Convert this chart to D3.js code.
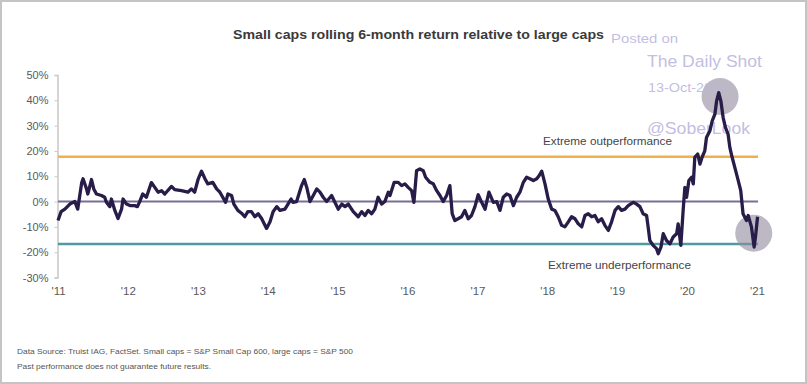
<!DOCTYPE html>
<html>
<head>
<meta charset="utf-8">
<script src="https://cdn.jsdelivr.net/npm/d3@7"></script>
<style>
  html, body { margin: 0; padding: 0; background: #fff; }
  svg { display: block; font-family: "Liberation Sans", Arial, sans-serif; }
</style>
</head>
<body>
<div id="chart"></div>
<script>
// === DATA ===
// roughly every 2-3 weeks
const dates = [
  '2011-01-01','2011-01-17','2011-02-06','2011-03-04','2011-03-30','2011-04-14','2011-05-05','2011-05-12',
  '2011-05-30','2011-06-06','2011-06-25','2011-07-07','2011-07-21','2011-08-16','2011-09-02','2011-09-11',
  '2011-09-29','2011-10-07','2011-10-25','2011-11-11','2011-11-29','2011-12-07','2011-12-25',
  '2012-01-12','2012-02-06','2012-02-20','2012-03-03','2012-03-19','2012-04-07','2012-05-03','2012-05-21',
  '2012-06-07','2012-06-25','2012-07-12','2012-08-16','2012-09-02','2012-10-07','2012-11-10','2012-11-28','2012-12-15',
  '2013-01-03','2013-01-20','2013-02-07','2013-02-22','2013-03-20','2013-04-09','2013-04-26','2013-05-11',
  '2013-05-26','2013-06-07','2013-06-26','2013-07-08','2013-07-29','2013-08-17','2013-09-03','2013-09-19',
  '2013-10-08','2013-10-26','2013-11-12','2013-11-30','2013-12-26',
  '2014-01-13','2014-01-29','2014-02-17','2014-03-06','2014-04-01','2014-04-17','2014-05-03','2014-05-13',
  '2014-06-01','2014-06-27','2014-07-11','2014-07-24','2014-08-10','2014-08-27','2014-09-14','2014-10-01',
  '2014-10-18','2014-11-05','2014-12-01','2014-12-18',
  '2015-01-05','2015-01-23','2015-02-09','2015-02-26','2015-03-24','2015-04-19','2015-05-07','2015-05-24',
  '2015-06-10','2015-06-28','2015-07-15','2015-08-01','2015-08-19','2015-09-05','2015-09-23','2015-10-02',
  '2015-10-24','2015-11-14','2015-12-02','2015-12-19',
  '2016-01-05','2016-01-23','2016-02-04','2016-02-18','2016-03-06','2016-03-24','2016-04-05','2016-04-28',
  '2016-05-15','2016-06-02','2016-06-19','2016-07-06','2016-07-24','2016-08-10','2016-08-22','2016-09-05',
  '2016-09-22','2016-10-10','2016-10-27','2016-11-14','2016-12-01','2016-12-19',
  '2017-01-05','2017-01-23','2017-02-10','2017-03-02','2017-03-25','2017-04-12','2017-04-29','2017-05-16',
  '2017-06-03','2017-06-20','2017-07-08','2017-07-25','2017-08-11','2017-08-29','2017-09-15','2017-10-02',
  '2017-10-20','2017-11-07','2017-11-19','2017-12-03','2017-12-20',
  '2018-01-06','2018-01-24','2018-02-10','2018-02-27','2018-03-17','2018-04-03','2018-04-21','2018-05-08',
  '2018-05-26','2018-06-12','2018-06-30','2018-07-17','2018-08-03','2018-08-21','2018-09-07','2018-09-24',
  '2018-10-12','2018-10-29','2018-11-16','2018-12-03','2018-12-21',
  '2019-01-07','2019-01-24','2019-02-11','2019-02-28','2019-03-26','2019-04-13','2019-04-30','2019-05-17',
  '2019-06-04','2019-06-12','2019-06-21','2019-07-08','2019-07-26','2019-08-04','2019-08-18','2019-08-30',
  '2019-09-16','2019-10-04','2019-10-21','2019-11-08','2019-11-16','2019-11-30','2019-12-12','2019-12-21','2019-12-30',
  '2020-01-11','2020-01-25','2020-02-03','2020-02-11','2020-02-26','2020-03-09','2020-03-20','2020-04-03',
  '2020-04-12','2020-04-30','2020-05-12','2020-05-26','2020-06-04','2020-06-15','2020-06-26','2020-07-08',
  '2020-07-20','2020-08-03','2020-08-12','2020-08-24','2020-09-07','2020-09-25','2020-10-08','2020-10-20',
  '2020-11-07','2020-11-16','2020-12-03','2020-12-17','2020-12-24','2021-01-04'
]

const values = [
  -7.5,-4,-3,-1,0,-3,7.5,9,
  5,3,8.7,5,3,2.4,1.7,-0.3,
  -2,1,-3.5,-6.7,-3,1,-1,
  -1.6,-1.6,-2,0,3,1.7,7.5,5.6,
  3.7,4.3,3,6,4.7,4.3,3.7,5,3.7,
  9,12,9,7,7.6,5,3.7,1.7,
  -0.3,3,2.4,-1,-3.5,-4.6,-6,-4,
  -4,-6,-4.8,-6.7,-10.6,
  -8,-4,-2,-3.5,-3,-1,1,-0.3,
  0,6.3,8.7,5.6,0,2.4,5,3.7,
  1.7,0,2.4,-0.3,
  -3,-1,-2,-1,-4,-6,-4,-5.5,
  -3.5,-4.8,-3,1.7,-1,0,3.7,2.4,
  7.6,7.6,6.3,7,
  5.6,4.3,-0.3,12.2,12.9,12.2,9.6,7.6,
  7,4.3,2.4,0,2.4,6.3,-4.8,-7.5,
  -6.8,-6,-3.5,-6.8,-5.5,-2,
  2.7,-0.3,-3,3.7,-0.3,0,-3.5,1.7,
  3,2.4,-1.6,1.7,3.7,7.6,9.6,9,
  8.3,9,10.2,12,7,
  1,-3,-3.5,-6,-9.4,-10,-8,-6,
  -6.8,-8.8,-10,-5.5,-4.8,-6,-5.5,-8,
  -6.8,-9.4,-11.4,-8,-3.5,
  -2,-3.5,-3,-1.6,-0.3,-1,-2,-4.8,
  -5.5,-10,-15.4,-17.3,-18.6,-20.6,-18,-12.7,
  -15.4,-16.7,-14,-12.7,-8.8,-17.3,-3.5,5.6,1.7,
  8.3,9.6,7,17.5,18.8,14.8,17.5,20,
  25.3,28,31.9,34.5,39.8,43,39.8,33.2,
  29.3,26.6,21.4,17.5,13.5,8.3,4.3,-4.8,
  -7.5,-5.5,-10,-18,-14,-6
]

const yTicks = [-30, -20, -10, 0, 10, 20, 30, 40, 50]
const xTickYears = [2011, 2012, 2013, 2014, 2015, 2016, 2017, 2018, 2019, 2020, 2021]
const xTickLabels = ["'11", "'12", "'13", "'14", "'15", "'16", "'17", "'18", "'19", "'20", "'21"]

// reference levels
const extremeHigh = 17.7
const extremeLow = -16.8
// highlighted spots (date, value)
const highlights = [['2020-06-22', 41.5], ['2020-12-15', -12.5]]

// === SETUP ===
const W = 807, H = 384
const parse = d3.timeParse('%Y-%m-%d')
const series = dates.map((d, i) => ({ date: parse(d), value: values[i] }))

const x = d3.scaleTime()
  .domain([new Date(2011, 0, 1), new Date(2021, 0, 1)])
  .range([58, 757])

const y = d3.scaleLinear()
  .domain([-30, 50])
  .range([277.5, 75])

const svg = d3.select('#chart').append('svg')
  .attr('width', W)
  .attr('height', H)

// frame
svg.append('rect')
  .attr('x', 1).attr('y', 1)
  .attr('width', W - 2).attr('height', H - 2)
  .attr('fill', '#fff')
  .attr('stroke', '#c4c4c4')
  .attr('stroke-width', 2)

// title
svg.append('text')
  .attr('x', 233).attr('y', 39)
  .attr('font-size', 13.5)
  .attr('font-weight', 'bold')
  .attr('fill', '#3a3a3a')
  .attr('textLength', 371)
  .attr('lengthAdjust', 'spacingAndGlyphs')
  .text('Small caps rolling 6-month return relative to large caps')

// === AXES ===
const yAxis = d3.axisLeft(y)
  .tickValues(yTicks)
  .tickSize(3)
  .tickPadding(6)
  .tickFormat(d => d + '%')

const yG = svg.append('g')
  .attr('transform', 'translate(57.5,0)')
  .call(yAxis)
yG.select('.domain').attr('stroke', '#c8c8c8').attr('stroke-width', 1.5)
yG.selectAll('.tick line').attr('stroke', '#c8c8c8')
yG.selectAll('.tick text')
  .attr('fill', '#5a5a5a')
  .attr('font-size', 11)
  .attr('font-family', '"Liberation Sans", Arial, sans-serif')

const xAxis = d3.axisBottom(x)
  .tickValues(xTickYears.map(yr => new Date(yr, 0, 1)))
  .tickSize(0)
  .tickPadding(0)
  .tickFormat((d, i) => xTickLabels[i])

const xG = svg.append('g')
  .attr('transform', 'translate(0,287)')
  .call(xAxis)
xG.select('.domain').remove()
xG.selectAll('.tick text')
  .attr('fill', '#5a5a5a')
  .attr('font-size', 11.5)
  .attr('font-family', '"Liberation Sans", Arial, sans-serif')

// === REFERENCE LINES ===
const refs = [
  { v: extremeHigh, color: '#f0b14a', w: 2.5 },
  { v: 0, color: '#7a6e98', w: 2 },
  { v: extremeLow, color: '#4f9aa2', w: 2.5 }
]
svg.append('g').selectAll('line')
  .data(refs)
  .join('line')
  .attr('x1', x(new Date(2011, 0, 1)))
  .attr('x2', 758)
  .attr('y1', d => y(d.v))
  .attr('y2', d => y(d.v))
  .attr('stroke', d => d.color)
  .attr('stroke-width', d => d.w)

svg.append('text')
  .attr('x', 543).attr('y', 144.5)
  .attr('font-size', 11)
  .attr('fill', '#454545')
  .attr('textLength', 129)
  .attr('lengthAdjust', 'spacingAndGlyphs')
  .text('Extreme outperformance')

svg.append('text')
  .attr('x', 548).attr('y', 268.5)
  .attr('font-size', 11)
  .attr('fill', '#454545')
  .attr('textLength', 143)
  .attr('lengthAdjust', 'spacingAndGlyphs')
  .text('Extreme underperformance')

// === HIGHLIGHT CIRCLES ===
svg.append('g').selectAll('circle')
  .data(highlights)
  .join('circle')
  .attr('cx', d => x(parse(d[0])))
  .attr('cy', d => y(d[1]))
  .attr('r', 18.5)
  .attr('fill', '#8f8a9e')
  .attr('fill-opacity', 0.6)

// === WATERMARK (under the line, over the circles) ===
const wm = [
  { t: 'Posted on', x: 611, y: 43, s: 12.5, len: 67 },
  { t: 'The Daily Shot', x: 647, y: 67, s: 17, len: 115 },
  { t: '13-Oct-2021', x: 648, y: 92, s: 13, len: 80 },
  { t: '@SoberLook', x: 647, y: 134, s: 17, len: 103 }
]
svg.append('g').selectAll('text')
  .data(wm)
  .join('text')
  .attr('x', d => d.x)
  .attr('y', d => d.y)
  .attr('font-size', d => d.s)
  .attr('fill', '#bab6dc')
  .attr('fill-opacity', 0.9)
  .attr('textLength', d => d.len)
  .attr('lengthAdjust', 'spacingAndGlyphs')
  .text(d => d.t)

// === SERIES LINE ===
const line = d3.line()
  .x(d => x(d.date))
  .y(d => y(d.value))

svg.append('path')
  .datum(series)
  .attr('d', line)
  .attr('fill', 'none')
  .attr('stroke', '#281c48')
  .attr('stroke-width', 3.3)
  .attr('stroke-linejoin', 'round')

// === FOOTER ===
svg.append('text')
  .attr('x', 17).attr('y', 354)
  .attr('font-size', 7.5)
  .attr('fill', '#555')
  .attr('textLength', 336)
  .attr('lengthAdjust', 'spacingAndGlyphs')
  .text('Data Source: Truist IAG, FactSet. Small caps = S&P Small Cap 600, large caps = S&P 500')

svg.append('text')
  .attr('x', 17).attr('y', 369)
  .attr('font-size', 7.5)
  .attr('fill', '#555')
  .attr('textLength', 194)
  .attr('lengthAdjust', 'spacingAndGlyphs')
  .text('Past performance does not guarantee future results.')
</script>
</body>
</html>
